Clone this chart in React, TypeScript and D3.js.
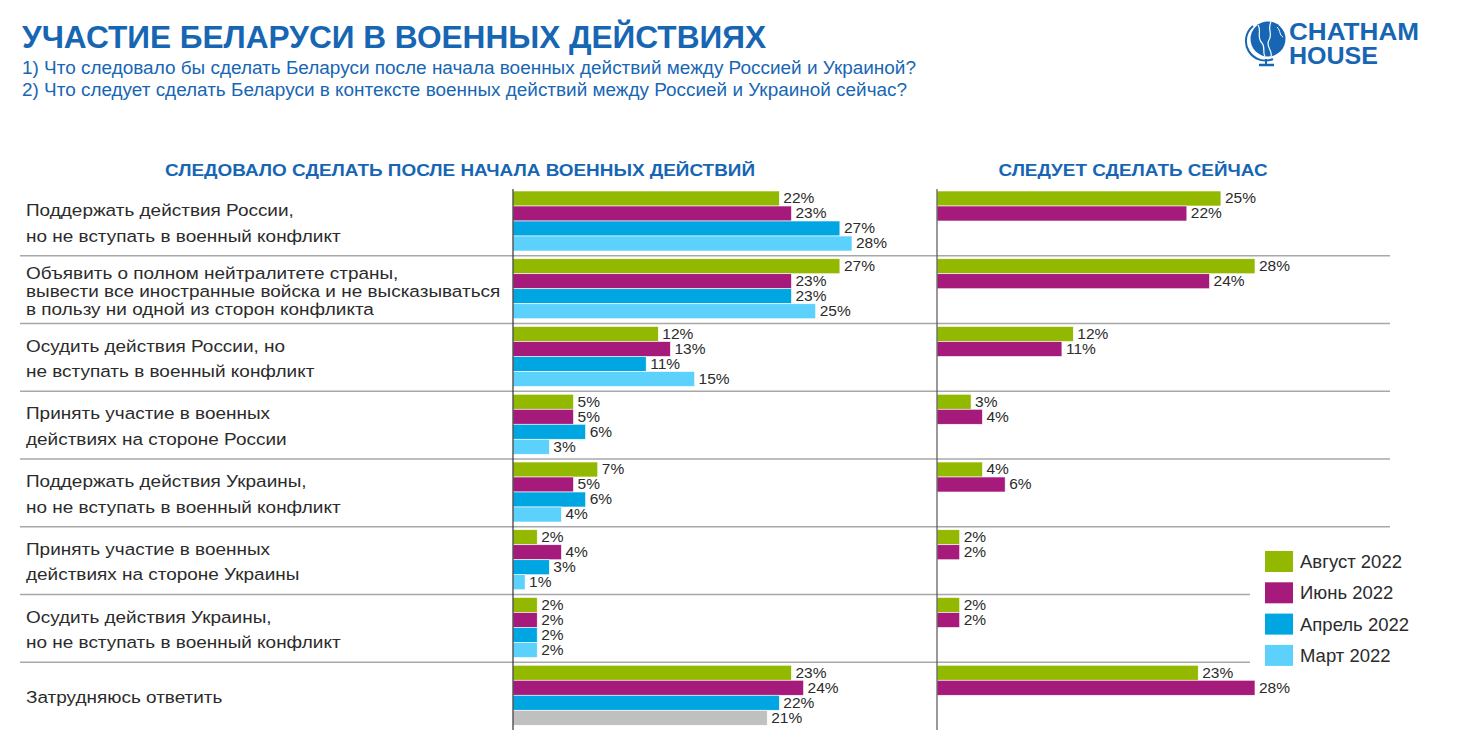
import React from "react";
import * as d3 from "d3";

const categories: string[][] = [
  ["Поддержать действия России,", "но не вступать в военный конфликт"],
  ["Объявить о полном нейтралитете страны,", "вывести все иностранные войска и не высказываться", "в пользу ни одной из сторон конфликта"],
  ["Осудить действия России, но", "не вступать в военный конфликт"],
  ["Принять участие в военных", "действиях на стороне России"],
  ["Поддержать действия Украины,", "но не вступать в военный конфликт"],
  ["Принять участие в военных", "действиях на стороне Украины"],
  ["Осудить действия Украины,", "но не вступать в военный конфликт"],
  ["Затрудняюсь ответить"],
];

const seriesNames = ["Август 2022", "Июнь 2022", "Апрель 2022", "Март 2022"];
const seriesColors = ["#93b800", "#a51a7b", "#00a6e2", "#5bd1fc"];

// Left panel: after start of hostilities
const leftAug = [22, 27, 12, 5, 7, 2, 2, 23];
const leftJun = [23, 23, 13, 5, 5, 4, 2, 24];
const leftApr = [27, 23, 11, 6, 6, 3, 2, 22];
const leftMar = [28, 25, 15, 3, 4, 1, 2, 21];

// Right panel: now
const rightAug = [25, 28, 12, 3, 4, 2, 2, 23];
const rightJun = [22, 24, 11, 4, 6, 2, 2, 28];

const title = "УЧАСТИЕ БЕЛАРУСИ В ВОЕННЫХ ДЕЙСТВИЯХ";
const subtitle1 = "1) Что следовало бы сделать Беларуси после начала военных действий между Россией и Украиной?";
const subtitle2 = "2) Что следует сделать Беларуси в контексте военных действий между Россией и Украиной сейчас?";
const leftHeader = "СЛЕДОВАЛО СДЕЛАТЬ ПОСЛЕ НАЧАЛА ВОЕННЫХ ДЕЙСТВИЙ";
const rightHeader = "СЛЕДУЕТ СДЕЛАТЬ СЕЙЧАС";

const W = 1462;
const H = 730;
const FONT = "'Liberation Sans', Arial, sans-serif";
const BLUE = "#1766b3";
const TEXT = "#2b2b2b";

export default function App() {
  const leftSeries = [leftAug, leftJun, leftApr, leftMar];
  const rightSeries = [rightAug, rightJun];

  const yGroup = d3.scaleBand<number>().domain(d3.range(categories.length)).range([189, 731]).paddingInner(0);
  const step = yGroup.bandwidth();
  const ySeries = d3.scaleBand<number>().domain(d3.range(4)).range([2, 62]).paddingInner(0);

  const xLeft = d3.scaleLinear().domain([0, 28]).range([513, 852]);
  const xRight = d3.scaleLinear().domain([0, 28]).range([937, 1255]);

  const legendX = 1265;
  const legendY = 551;
  const legendStep = 31.3;

  const bars: JSX.Element[] = [];
  categories.forEach((_, gi) => {
    const gTop = yGroup(gi)!;
    leftSeries.forEach((s, si) => {
      const y = gTop + ySeries(si)!;
      const v = s[gi];
      let color = seriesColors[si];
      if (gi === categories.length - 1 && si === 3) color = "#c0c0c0";
      bars.push(
        <g key={`l-${gi}-${si}`}>
          <rect x={xLeft(0)} y={y} width={xLeft(v) - xLeft(0)} height={ySeries.bandwidth()} fill={color} stroke="#fff" strokeWidth={0.6} />
          <text x={xLeft(v) + 4} y={y + ySeries.bandwidth() / 2 - 0.5} dy="0.35em" fontSize={15.5} fill={TEXT} fontFamily={FONT}>
            {v}%
          </text>
        </g>
      );
    });
    rightSeries.forEach((s, si) => {
      const y = gTop + ySeries(si)!;
      const v = s[gi];
      bars.push(
        <g key={`r-${gi}-${si}`}>
          <rect x={xRight(0)} y={y} width={xRight(v) - xRight(0)} height={ySeries.bandwidth()} fill={seriesColors[si]} stroke="#fff" strokeWidth={0.6} />
          <text x={xRight(v) + 4} y={y + ySeries.bandwidth() / 2 - 0.5} dy="0.35em" fontSize={15.5} fill={TEXT} fontFamily={FONT}>
            {v}%
          </text>
        </g>
      );
    });
  });

  return (
    <svg width={W} height={H} style={{ position: "absolute", left: 0, top: 0, background: "#fff" }} fontFamily={FONT}>
      <rect x={0} y={0} width={W} height={H} fill="#fff" />
      {/* Title */}
      <text x={22} y={48} fontSize={31} fontWeight="bold" fill={BLUE} textLength={744} lengthAdjust="spacingAndGlyphs">
        {title}
      </text>
      <text x={22} y={74} fontSize={17.5} fill={BLUE} textLength={894} lengthAdjust="spacingAndGlyphs">
        {subtitle1}
      </text>
      <text x={22} y={96} fontSize={17.5} fill={BLUE} textLength={885} lengthAdjust="spacingAndGlyphs">
        {subtitle2}
      </text>

      {/* Logo */}
      <g>
        <circle cx={1268} cy={39} r={17.5} fill={BLUE} />
        <path d="M1258,25 C1262,31 1256,37 1262,43 C1266,48 1262,53 1265,56" stroke="#fff" strokeWidth={1.2} fill="none" />
        <path d="M1271,22 C1267,28 1273,34 1269,40 C1265,46 1273,51 1271,56" stroke="#fff" strokeWidth={1.2} fill="none" />
        <path d="M1277,27 C1281,31 1279,35 1283,37" stroke="#fff" strokeWidth={1} fill="none" />
        <path d="M1253,26 A19.5,19.5 0 0,0 1273,59" stroke={BLUE} strokeWidth={2} fill="none" />
        <line x1={1266} y1={59} x2={1266} y2={64} stroke={BLUE} strokeWidth={2} />
        <line x1={1259} y1={65} x2={1274} y2={65} stroke={BLUE} strokeWidth={2.5} />
        <text x={1289} y={40} fontSize={23} fontWeight="bold" fill={BLUE} textLength={130} lengthAdjust="spacingAndGlyphs">
          CHATHAM
        </text>
        <text x={1289} y={64} fontSize={23} fontWeight="bold" fill={BLUE} textLength={89} lengthAdjust="spacingAndGlyphs">
          HOUSE
        </text>
      </g>

      {/* Panel headers */}
      <text x={460} y={176} fontSize={17} fontWeight="bold" fill={BLUE} textAnchor="middle" textLength={590} lengthAdjust="spacingAndGlyphs">
        {leftHeader}
      </text>
      <text x={1133} y={176} fontSize={17} fontWeight="bold" fill={BLUE} textAnchor="middle" textLength={269} lengthAdjust="spacingAndGlyphs">
        {rightHeader}
      </text>

      {/* Separators */}
      {categories.slice(1).map((_, i) => {
        const y = yGroup(i + 1)! - 1;
        const endX = y > legendY - 10 && y < legendY + 4 * legendStep ? 1250 : 1390;
        return <line key={`sep-${i}`} x1={20} x2={endX} y1={y} y2={y} stroke="#a8a8a8" strokeWidth={1.5} />;
      })}

      {/* Category labels */}
      {categories.map((lines, gi) => {
        const center = yGroup(gi)! + step / 2;
        const lh = lines.length >= 3 ? 18 : 25.5;
        const start = center - ((lines.length - 1) * lh) / 2;
        return (
          <text key={`cat-${gi}`} fontSize={17} fill={TEXT} transform="translate(26,0) scale(1.115,1)">
            {lines.map((ln, li) => (
              <tspan key={li} x={0} y={start + li * lh} dy="0.35em">
                {ln}
              </tspan>
            ))}
          </text>
        );
      })}

      {bars}

      {/* Axes */}
      <line x1={xLeft(0)} x2={xLeft(0)} y1={189} y2={H} stroke="#333" strokeWidth={1.2} />
      <line x1={xRight(0)} x2={xRight(0)} y1={189} y2={H} stroke="#555" strokeWidth={1.2} />

      {/* Legend */}
      {seriesNames.map((name, i) => (
        <g key={`leg-${i}`}>
          <rect x={legendX} y={legendY + i * legendStep} width={28} height={21} fill={seriesColors[i]} />
          <text x={legendX + 35} y={legendY + i * legendStep + 10.5} dy="0.35em" fontSize={18.5} fill={TEXT}>
            {name}
          </text>
        </g>
      ))}
    </svg>
  );
}
